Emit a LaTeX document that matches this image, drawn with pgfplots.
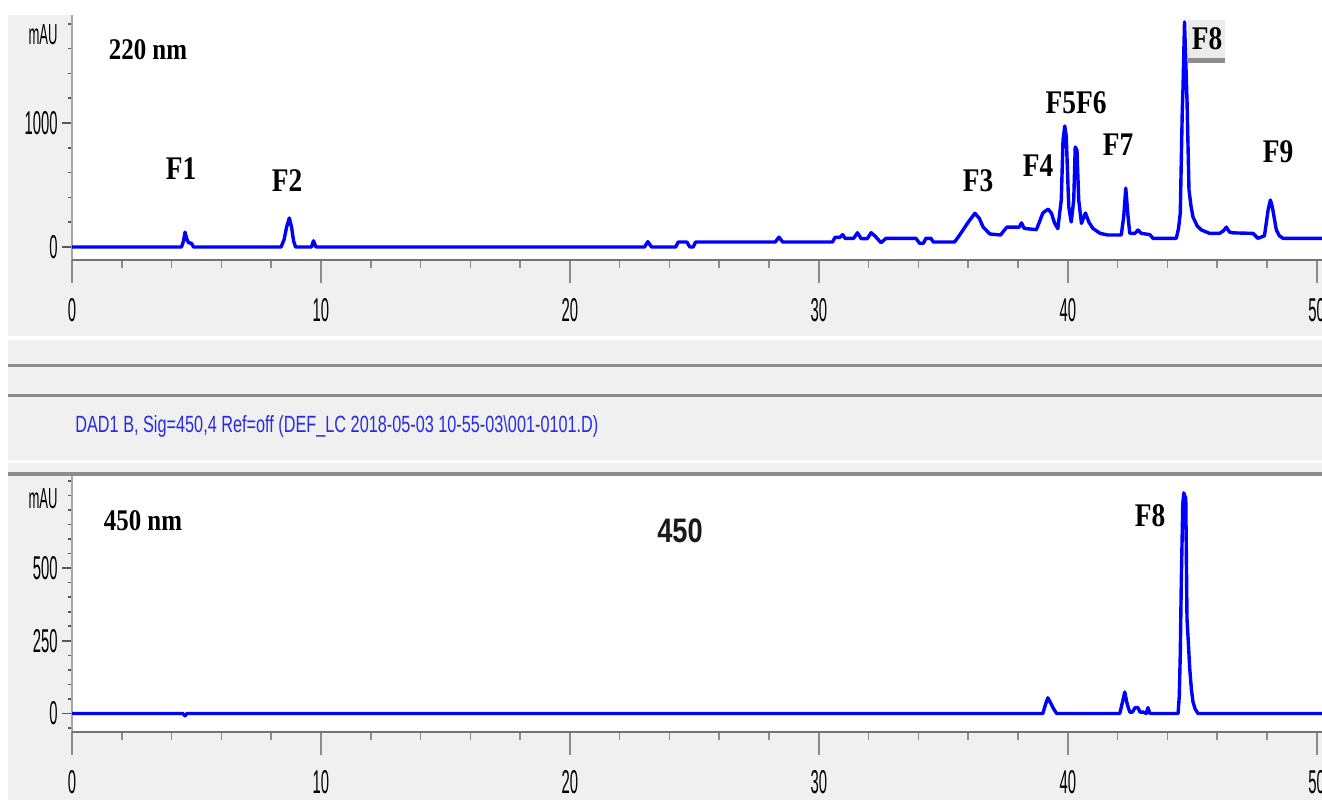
\documentclass[border=0pt]{standalone}
\usepackage{fontspec}
\usepackage{graphicx}
\usepackage{pgfplots}
\usepackage{pgfplotstable}
\pgfplotsset{compat=1.18}
\setmainfont{Liberation Serif}
\newfontfamily\tickfont[FakeStretch=0.45]{Liberation Sans}
\newfontfamily\serifb[FakeStretch=0.83]{Liberation Serif}
\newfontfamily\sansb[FakeStretch=0.8]{Liberation Sans}
\newfontfamily\dadfont{Liberation Sans}
\definecolor{panel}{HTML}{F0F0F0}
\definecolor{trace}{HTML}{0000FF}
\definecolor{sep}{HTML}{8C8C8C}
\definecolor{dadblue}{HTML}{2A2AE0}

\pgfplotstableread{
t v
0 0
4.40 0
4.48 50
4.54 120
4.60 70
4.68 35
4.80 30
4.88 0
8.40 0
8.52 60
8.62 160
8.73 234
8.82 160
8.90 50
8.98 0
9.62 0
9.70 50
9.80 0
23.00 0
23.13 43
23.28 0
24.25 0
24.35 40
24.70 40
24.82 0
24.95 0
25.05 40
28.25 40
28.40 80
28.55 40
30.55 40
30.65 78
30.85 78
30.96 100
31.05 70
31.40 70
31.55 115
31.70 68
31.95 68
32.10 115
32.25 90
32.50 35
32.70 70
33.90 70
34.05 30
34.20 30
34.30 70
34.50 70
34.60 40
35.45 40
35.60 80
35.80 140
36.00 200
36.27 272
36.45 230
36.60 160
36.87 105
37.30 97
37.55 160
38.05 160
38.14 195
38.25 150
38.74 140
39.00 274
39.21 306
39.34 274
39.47 194
39.60 148
39.74 379
39.81 863
39.88 976
39.94 890
40.04 323
40.14 202
40.24 379
40.30 806
40.37 780
40.44 379
40.55 190
40.71 274
40.85 200
41.01 150
41.30 110
41.60 97
42.15 97
42.25 250
42.33 475
42.42 250
42.49 110
42.70 110
42.82 137
42.95 110
43.30 100
43.42 70
44.36 70
44.45 150
44.52 274
44.60 1100
44.63 1290
44.69 1815
44.74 1500
44.79 1185
44.87 460
44.95 330
45.03 242
45.20 170
45.37 137
45.70 110
46.10 110
46.25 130
46.37 160
46.50 120
46.64 114
47.44 110
47.64 70
47.90 90
48.05 300
48.14 379
48.22 320
48.38 137
48.50 90
48.65 70
50.21 70
}\topdata

\pgfplotstableread{
t v
0 0
4.45 0
4.54 -8
4.62 0
39.00 0
39.10 30
39.20 54
39.32 35
39.42 18
39.55 0
42.09 0
42.20 40
42.29 74
42.38 35
42.49 5
42.60 5
42.70 20
42.82 20
42.90 5
43.03 5
43.15 0
43.22 20
43.30 0
44.43 0
44.48 60
44.52 205
44.56 450
44.62 720
44.66 759
44.74 740
44.79 325
44.84 250
44.90 154
44.97 80
45.03 40
45.12 15
45.23 0
50.21 0
}\botdata

\pgfplotsset{
  chromy/.style={
    scale only axis, width=625pt, anchor=south west,
    xmin=0, xmax=50.213,
    axis x line=none, axis y line*=left,
    axis line style={draw=black!35, line width=0.8pt},
    tick align=outside, major tick length=5pt, minor tick length=1.8pt,
    ytick style={draw=black!65, line width=0.8pt},
    minor tick style={draw=black!65, line width=0.8pt},
    yticklabel style={font=\tickfont\fontsize{16.5}{16.5}\selectfont, text=black, anchor=east, inner sep=0pt},
  },
  chromx/.style={
    scale only axis, width=625pt, anchor=south west,
    xmin=0, xmax=50.213,
    axis y line=none, axis x line*=bottom,
    axis line style={draw=black!55, line width=1.2pt},
    tick align=outside, major tick length=11.5pt, minor tick length=4pt,
    xtick={0,10,20,30,40,50}, xticklabels={0,10,20,30,40,50},
    minor xtick={2,4,6,8,12,14,16,18,22,24,26,28,32,34,36,38,42,44,46,48},
    xtick style={draw=black!45, line width=0.8pt},
    minor tick style={draw=black!45, line width=0.8pt},
    xticklabel style={font=\tickfont\fontsize{16.5}{16.5}\selectfont, text=black, anchor=center, inner sep=0pt},
  },
}

\begin{document}
\begin{tikzpicture}
\useasboundingbox (0,0) rectangle (661pt,400pt);
\clip (0,0) rectangle (661pt,400pt);
\fill[white] (0,0) rectangle (661pt,400pt);
\fill[panel] (4pt,232pt) rectangle (661pt,392.5pt);
\fill[panel] (4pt,0pt) rectangle (661pt,230pt);
\fill[white] (36pt,270pt) rectangle (661pt,392.5pt);
\fill[white] (36pt,34.15pt) rectangle (661pt,162pt);
\draw[sep, line width=1.5pt] (4pt,217.5pt) -- (661pt,217.5pt);
\draw[sep, line width=1.5pt] (4pt,202.5pt) -- (661pt,202.5pt);
\draw[white, line width=1.5pt] (4pt,169.5pt) -- (661pt,169.5pt);
\draw[sep, line width=2pt] (4pt,163pt) -- (661pt,163pt);

% ---- top panel (220 nm)
\begin{axis}[chromy, at={(36pt,270pt)}, height=122.5pt,
  ymin=-104.8, ymax=1871,
  ytick={0,1000}, yticklabels={0,1000},
  minor ytick={200,400,600,800,1200,1400,1600,1800},
  yticklabel style={xshift=-2pt}]
\addplot[trace, line width=1.7pt, line join=round] table[x=t,y=v] {\topdata};
\end{axis}
\begin{axis}[chromx, at={(36pt,270pt)}, height=122.5pt,
  ymin=-104.8, ymax=1871, xticklabel style={yshift=-13.5pt}]
\end{axis}

% ---- bottom panel (450 nm)
\begin{axis}[chromy, at={(36pt,34.15pt)}, height=127.85pt,
  ymin=-62.6, ymax=817,
  ytick={0,250,500}, yticklabels={0,250,500},
  minor ytick={-50,50,100,150,200,300,350,400,450,550,600,650,700,750,800},
  yticklabel style={xshift=-2pt}]
\addplot[trace, line width=1.7pt, line join=round] table[x=t,y=v] {\botdata};
\end{axis}
\begin{axis}[chromx, at={(36pt,34.15pt)}, height=127.85pt,
  ymin=-62.6, ymax=817, xticklabel style={yshift=-13.5pt}]
\end{axis}

% ---- texts
\node[font=\tickfont\fontsize{14.5}{14.5}\selectfont, text=black] at (21.5pt,382.5pt) {mAU};
\node[font=\tickfont\fontsize{14.5}{14.5}\selectfont, text=black] at (21.5pt,150.5pt) {mAU};
\node[anchor=west, inner sep=0pt, text=dadblue] at (37.5pt,187pt)
  {\resizebox{261.5pt}{8.5pt}{\dadfont DAD1 B, Sig=450,4 Ref=off (DEF\_LC 2018-05-03 10-55-03\textbackslash 001-0101.D)}};

\fill[black!8] (594pt,368.5pt) rectangle (612.5pt,390pt);
\fill[black!45] (594pt,368.5pt) rectangle (612.5pt,371pt);

\tikzset{flab/.style={font=\serifb\bfseries\fontsize{16.5}{16.5}\selectfont, inner sep=0pt}}
\node[flab] at (74pt,375pt) {\fontsize{15}{15}\selectfont 220 nm};
\node[flab] at (71.5pt,139.5pt) {\fontsize{15}{15}\selectfont 450 nm};
\node[flab] at (90.5pt,315.5pt) {F1};
\node[flab] at (143.5pt,309.5pt) {F2};
\node[flab] at (489pt,309.5pt) {F3};
\node[flab] at (519pt,317pt) {F4};
\node[flab] at (538pt,348.5pt) {F5F6};
\node[flab] at (559pt,327.5pt) {F7};
\node[flab] at (603.5pt,380.5pt) {F8};
\node[flab] at (639pt,324pt) {F9};
\node[flab] at (575pt,142pt) {F8};
\node[font=\sansb\bfseries\fontsize{17}{17}\selectfont, inner sep=0pt, text=black!90] at (340pt,134.5pt) {450};
\end{tikzpicture}
\end{document}
